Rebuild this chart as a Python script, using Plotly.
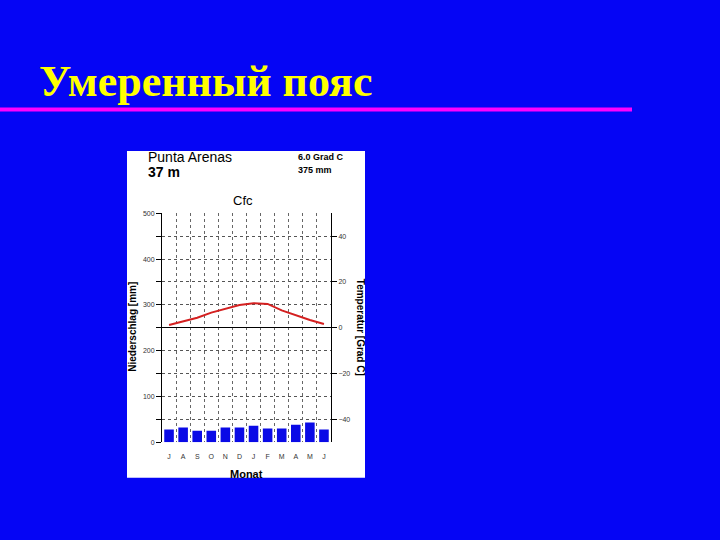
import plotly.graph_objects as go

# ---- data ----
months = ["J", "A", "S", "O", "N", "D", "J", "F", "M", "A", "M", "J"]
precip_mm = [28, 32, 25, 25, 32, 32, 36, 30, 30, 38, 43, 28]
temp_c = [1.2, 2.8, 4.4, 6.6, 8.3, 9.9, 10.7, 10.4, 7.6, 5.4, 3.4, 1.6]
precip_ticks = [0, 50, 100, 150, 200, 250, 300, 350, 400, 450, 500]
precip_ticklabels = ["0", "", "100", "", "200", "", "300", "", "400", "", "500"]
temp_ticks = [-40, -20, 0, 20, 40]
station = "Punta Arenas"
elevation = "37 m"
mean_temp = "6.0 Grad C"
total_precip = "375 mm"
climate = "Cfc"
slide_title = "Умеренный пояс"

W, H = 720, 540
def px(x): return x / W
def py(y): return 1 - y / H

xs = list(range(1, len(months) + 1))
BG = "#0505F5"

fig = go.Figure()
fig.add_trace(go.Bar(x=xs, y=precip_mm, marker=dict(color="#0a0ae6", line=dict(width=0)),
                     width=0.68, xaxis="x", yaxis="y", showlegend=False))
fig.add_trace(go.Scatter(x=xs, y=temp_c, mode="lines", line=dict(color="#d42020", width=2),
                         xaxis="x", yaxis="y2", showlegend=False))
# invisible trace for boundary grid axis
fig.add_trace(go.Scatter(x=[0.5, 12.5], y=[0, 0], mode="markers", marker=dict(opacity=0),
                         xaxis="x2", yaxis="y", showlegend=False, hoverinfo="skip"))

xdom = [px(162), px(331)]
ydom = [py(444), py(212)]
tickfont = dict(family="Liberation Sans", size=7, color="#333333")

fig.update_layout(
    width=W, height=H, margin=dict(l=0, r=0, t=0, b=0),
    paper_bgcolor=BG, plot_bgcolor="white",
    xaxis=dict(domain=xdom, range=[0.5, 12.5], tickvals=xs, ticktext=months,
               showgrid=False, zeroline=False, showline=False, ticks="",
               ticklabelstandoff=9,
               tickfont=tickfont, anchor="y"),
    xaxis2=dict(domain=xdom, range=[0.5, 12.5], overlaying="x", anchor="y",
                tickvals=[i + 0.5 for i in range(12)], showticklabels=False,
                showgrid=True, gridcolor="#666666", gridwidth=1, griddash="dot",
                zeroline=False, showline=False, ticks=""),
    yaxis=dict(domain=ydom, range=[0, 500], tickvals=precip_ticks, ticktext=precip_ticklabels,
               showgrid=True, gridcolor="#555555", gridwidth=1, griddash="dot",
               zeroline=False, showline=True, linecolor="black", linewidth=1,
               ticks="outside", ticklen=5, tickcolor="black", tickfont=tickfont,
               anchor="x"),
    yaxis2=dict(domain=ydom, range=[-50, 50], overlaying="y", side="right",
                tickvals=temp_ticks, showgrid=False, zeroline=True,
                zerolinecolor="black", zerolinewidth=1,
                showline=True, linecolor="black", linewidth=1,
                ticks="outside", ticklen=5, tickcolor="black", tickfont=tickfont,
                anchor="x"),
    shapes=[
        dict(type="rect", xref="paper", yref="paper", x0=px(127), x1=px(365),
             y0=py(480), y1=py(149), fillcolor="white", line=dict(width=0), layer="below"),
        dict(type="line", xref="paper", yref="paper", x0=0, x1=px(632),
             y0=py(107), y1=py(107), line=dict(color="#FF00FF", width=4)),
    ],
)

ann = [
    dict(text=slide_title, x=px(37), y=py(79), xanchor="left", yanchor="middle",
         font=dict(family="Liberation Serif", size=44, color="#FFFF00"), ),
    dict(text=station, x=px(146), y=py(155), xanchor="left", yanchor="middle",
         font=dict(family="Liberation Sans", size=14, color="black")),
    dict(text="<b>" + elevation + "</b>", x=px(146), y=py(170), xanchor="left", yanchor="middle",
         font=dict(family="Liberation Sans", size=14, color="black")),
    dict(text="<b>" + mean_temp + "</b>", x=px(296), y=py(155), xanchor="left", yanchor="middle",
         font=dict(family="Liberation Sans", size=9, color="black")),
    dict(text="<b>" + total_precip + "</b>", x=px(296), y=py(168), xanchor="left", yanchor="middle",
         font=dict(family="Liberation Sans", size=9, color="black")),
    dict(text=climate, x=px(243), y=py(199), xanchor="center", yanchor="middle",
         font=dict(family="Liberation Sans", size=13, color="black")),
    dict(text="<b>Niederschlag [mm]</b>", x=px(133), y=py(327), xanchor="center", yanchor="middle",
         textangle=-90, font=dict(family="Liberation Sans", size=10, color="black")),
    dict(text="<b>Temperatur [Grad C]</b>", x=px(360), y=py(327), xanchor="center", yanchor="middle",
         textangle=90, font=dict(family="Liberation Sans", size=10, color="black")),
    dict(text="<b>Monat</b>", x=px(246), y=py(476), xanchor="center", yanchor="middle",
         font=dict(family="Liberation Sans", size=11, color="black")),
]
for a in ann:
    a.update(xref="paper", yref="paper", showarrow=False)
ann[0]["font"]["weight"] = "bold"
fig.update_layout(annotations=ann)

fig.write_html("out.html", config={"displayModeBar": False},
               post_script="document.body.style.margin='0';document.body.style.overflow='hidden';")
